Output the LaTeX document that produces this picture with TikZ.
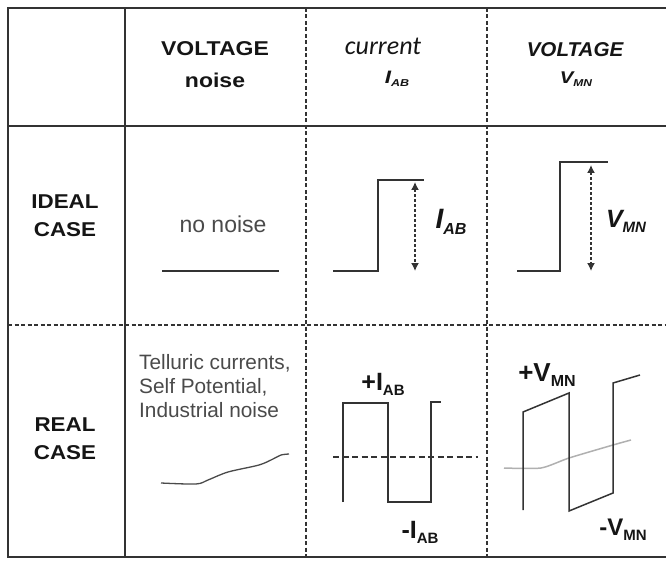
\documentclass[tikz,border=0pt]{standalone}
\usepackage{graphicx}
\usepackage{fontspec}
\setmainfont{Liberation Sans}
\newfontfamily\carl{Carlito}
\usetikzlibrary{arrows.meta}
\definecolor{gridc}{HTML}{333333}
\definecolor{txtc}{HTML}{151515}
\definecolor{softc}{HTML}{4A4A4A}
\definecolor{lightc}{HTML}{B0B0B0}
\newcommand{\hs}[2]{\scalebox{#1}[1]{#2}}
\newcommand{\sbx}[3]{\raisebox{-#2}{\fontsize{#1}{#1}\selectfont #3}}
\begin{document}
\begin{tikzpicture}[x=1pt,y=-1pt,
  gridline/.style={draw=gridc,line width=2pt},
  dgrid/.style={draw=gridc,line width=1.6pt,dash pattern=on 4pt off 2.5pt},
  wave/.style={draw=gridc,line width=1.6pt,line join=miter},
  dimarrow/.style={draw=gridc,line width=1.4pt,dash pattern=on 2.5pt off 2.5pt,
     {Latex[length=8pt,width=8pt]}-{Latex[length=8pt,width=8pt]}},
  txt/.style={inner sep=0pt,text=txtc},
  hb/.style={txt,font=\bfseries\fontsize{20}{20}\selectfont},
  rb/.style={txt,font=\bfseries\fontsize{20}{20}\selectfont},
  lbl/.style={txt,font=\bfseries}]
\useasboundingbox (0,0) rectangle (666,561);
% grid
\draw[gridline] (666,8) -- (8,8) -- (8,557) -- (666,557);
\draw[gridline] (8,126) -- (666,126);
\draw[gridline] (125,8) -- (125,557);
\draw[dgrid] (8,325) -- (666,325);
\draw[dgrid] (306,8) -- (306,557);
\draw[dgrid] (487,8) -- (487,557);
% header
\node[hb] (h1a) at (215,49) {\hs{1.15}{VOLTAGE}};
\node[hb] (h1b) at (215,80) {\hs{1.15}{noise}};
\node[txt,font=\carl\itshape\fontsize{26}{26}\selectfont] (h2a) at (383,46) {current};
\node[txt,font=\bfseries\itshape\fontsize{18}{18}\selectfont] (h2b) at (397,79) {\hs{1.25}{I\sbx{10pt}{3pt}{AB}}};
\node[txt,font=\bfseries\itshape\fontsize{20}{20}\selectfont] (h3a) at (575,50) {\hs{1.03}{VOLTAGE}};
\node[txt,font=\bfseries\itshape\fontsize{17}{17}\selectfont] (h3b) at (576,79) {\hs{1.2}{V\sbx{10pt}{3pt}{MN}}};
% row titles
\node[rb] (r1a) at (65,202) {\hs{1.12}{IDEAL}};
\node[rb] (r1b) at (65,230) {\hs{1.12}{CASE}};
\node[rb] (r2a) at (65,425) {\hs{1.12}{REAL}};
\node[rb] (r2b) at (65,453) {\hs{1.12}{CASE}};
% ideal row
\node[txt,text=softc,font=\fontsize{23}{23}\selectfont] (nn) at (223,224) {no noise};
\draw[wave,line width=1.4pt] (162,271) -- (279,271);
\draw[wave] (333,271) -- (378,271) -- (378,180) -- (424,180);
\coordinate (ia1) at (415,182);
\coordinate (ia2) at (415,271);
\draw[dimarrow] (ia1) -- (ia2);
\node[lbl,font=\bfseries\itshape\fontsize{28}{28}\selectfont] (iab) at (451,222) {I\sbx{16pt}{6pt}{AB}};
\draw[wave] (517,271) -- (560,271);
\draw[wave,line width=2.2pt] (560,272) -- (560,162);
\draw[wave] (559,162) -- (608,162);
\coordinate (va1) at (591,165);
\coordinate (va2) at (591,271);
\draw[dimarrow] (va1) -- (va2);
\node[lbl,font=\bfseries\itshape\fontsize{25}{25}\selectfont] (vmn) at (626,221) {V\sbx{15pt}{5pt}{MN}};
% real row
\node[txt,text=softc,anchor=west,align=left,font=\fontsize{20.8}{24}\selectfont] (tel) at (139,386)
  {Telluric currents,\\Self Potential,\\Industrial noise};
\draw[draw=softc,line width=1.3pt,line join=round] plot[smooth,tension=0.5] coordinates
  {(161,483) (196,484) (208,480) (228,472) (259,465) (273,459) (281,455) (289,454)};
\draw[wave] (343,502) -- (343,403) -- (388,403) -- (388,502) -- (431,502) -- (431,402) -- (441,402);
\draw[draw=gridc,line width=1.3pt,dash pattern=on 6pt off 3.5pt] (333,457) -- (478,457);
\node[lbl,font=\bfseries\fontsize{25}{25}\selectfont] (pi) at (383,384) {+I\sbx{15pt}{5pt}{AB}};
\node[lbl,font=\bfseries\fontsize{25}{25}\selectfont] (mi) at (420,532) {-I\sbx{15pt}{5pt}{AB}};
\draw[draw=lightc,line width=1.5pt,line join=round] plot[smooth,tension=0.4] coordinates
  {(504,468) (541,468) (569,458) (613,445) (631,440)};
\draw[wave,line width=1.5pt] (523,510) -- (523,412) -- (569,393) -- (569,511) -- (613,493) -- (613,383) -- (640,375);
\node[lbl,font=\bfseries\fontsize{26}{26}\selectfont] (pv) at (547,375) {+V\sbx{16pt}{5pt}{MN}};
\node[lbl,font=\bfseries\fontsize{24}{24}\selectfont] (mv) at (623,530) {-V\sbx{15pt}{5pt}{MN}};
\end{tikzpicture}
\end{document}
